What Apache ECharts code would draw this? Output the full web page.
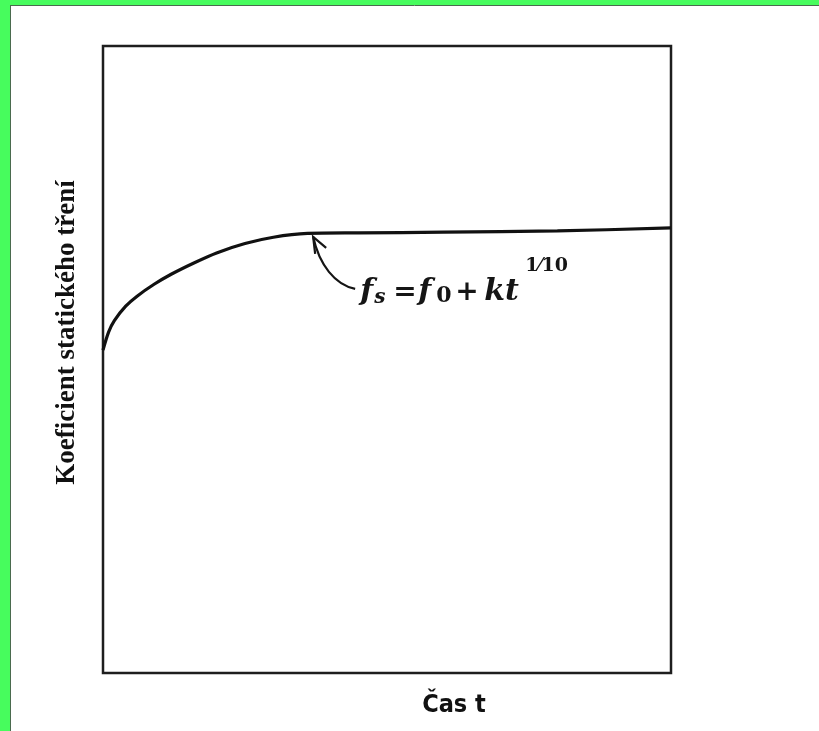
<!DOCTYPE html>
<html>
<head>
<meta charset="utf-8">
<script src="https://cdn.jsdelivr.net/npm/echarts@6/dist/echarts.min.js"></script>
<style>
  html, body { margin: 0; padding: 0; background: #fff; }
  #main { width: 819px; height: 731px; }
</style>
</head>
<body>
<div id="main"></div>
<script>
// curve (time -> static friction), arbitrary units 0..100
const timeValues = [0, 1, 2, 4, 6, 9, 12, 16, 20, 25, 30, 36, 45, 60, 80, 100];
const frictionValues = [51.5, 54.4, 56.2, 58.5, 60.1, 62.0, 63.6, 65.4, 67.0, 68.5, 69.5, 70.1, 70.2, 70.3, 70.5, 71.0];
const arrowTarget = [37, 70.2];

const xTitle = 'Čas t';
const yTitle = 'Koeficient statického tření';

const curve = timeValues.map((t, i) => [t, frictionValues[i]]);

const chart = echarts.init(document.getElementById('main'));

const option = {
    backgroundColor: '#ffffff',
    animation: false,
    grid: {
        left: 103, right: 148, top: 46, bottom: 58,
        show: true,
        borderColor: '#1e1e1e',
        borderWidth: 2.5,
        backgroundColor: 'transparent'
    },
    xAxis: {
        type: 'value',
        min: 0, max: 100,
        axisLine: { show: false },
        axisTick: { show: false },
        axisLabel: { show: false },
        splitLine: { show: false },
        name: xTitle,
        nameLocation: 'middle',
        nameGap: 20,
        nameTextStyle: {
            fontFamily: '"DejaVu Sans Condensed", "DejaVu Sans", sans-serif',
            fontWeight: 'bold',
            fontSize: 25,
            color: '#111',
            verticalAlign: 'top',
            padding: [0, 0, 0, 134]
        }
    },
    yAxis: {
        type: 'value',
        min: 0, max: 100,
        axisLine: { show: false },
        axisTick: { show: false },
        axisLabel: { show: false },
        splitLine: { show: false },
        name: yTitle,
        nameLocation: 'middle',
        nameGap: 22,
        nameTextStyle: {
            fontFamily: 'Liberation Serif',
            fontWeight: 'bold',
            fontSize: 27,
            color: '#111',
            padding: [0, 0, 0, 54]
        }
    },
    series: [{
        type: 'line',
        data: curve,
        smooth: 0.3,
        showSymbol: false,
        lineStyle: { color: '#111', width: 3.2 }
    }]
};
chart.setOption(option);

// annotation: arrow + formula, anchored to the curve point it points at
const tip = chart.convertToPixel({ gridIndex: 0 }, arrowTarget);
const mathFont = (size, italic) => (italic ? 'italic ' : '') + 'bold ' + size + 'px "DejaVu Serif"';
const txt = (text, x, y, size, italic) => ({
    type: 'text',
    style: { text: text, x: x, y: y, font: mathFont(size, italic), fill: '#151515', verticalAlign: 'bottom' }
});

chart.setOption({
    graphic: [
        // green frame of the scan
        { type: 'rect', shape: { x: 0, y: 0, width: 819, height: 5 }, style: { fill: '#47fc5d' } },
        { type: 'rect', shape: { x: 0, y: 0, width: 10, height: 731 }, style: { fill: '#47fc5d' } },
        { type: 'line', shape: { x1: 10, y1: 5.5, x2: 819, y2: 5.5 }, style: { stroke: '#4a6a4e', lineWidth: 1 } },
        { type: 'line', shape: { x1: 10.5, y1: 5, x2: 10.5, y2: 731 }, style: { stroke: '#4a6a4e', lineWidth: 1 } },
        {
            type: 'group',
            x: tip[0], y: tip[1] + 4,
            children: [
                { type: 'bezierCurve', shape: { x1: 0, y1: 0, cpx1: 6, cpy1: 28, cpx2: 22, cpy2: 48, x2: 42, y2: 52 },
                  style: { stroke: '#151515', lineWidth: 2.2, fill: null } },
                { type: 'polyline', shape: { points: [[2, 17], [0, 0], [13, 11]] },
                  style: { stroke: '#151515', lineWidth: 2.2, fill: null } },
                txt('f', 47, 70, 30, true),
                txt('s', 61, 71, 20, true),
                txt('=', 80, 70, 28, false),
                txt('f', 105, 70, 30, true),
                txt('0', 123, 70, 22, false),
                txt('+', 142, 70, 28, false),
                txt('kt', 171, 70, 30, true),
                txt('1⁄10', 212, 39, 19, false)
            ]
        }
    ]
});
</script>
</body>
</html>
